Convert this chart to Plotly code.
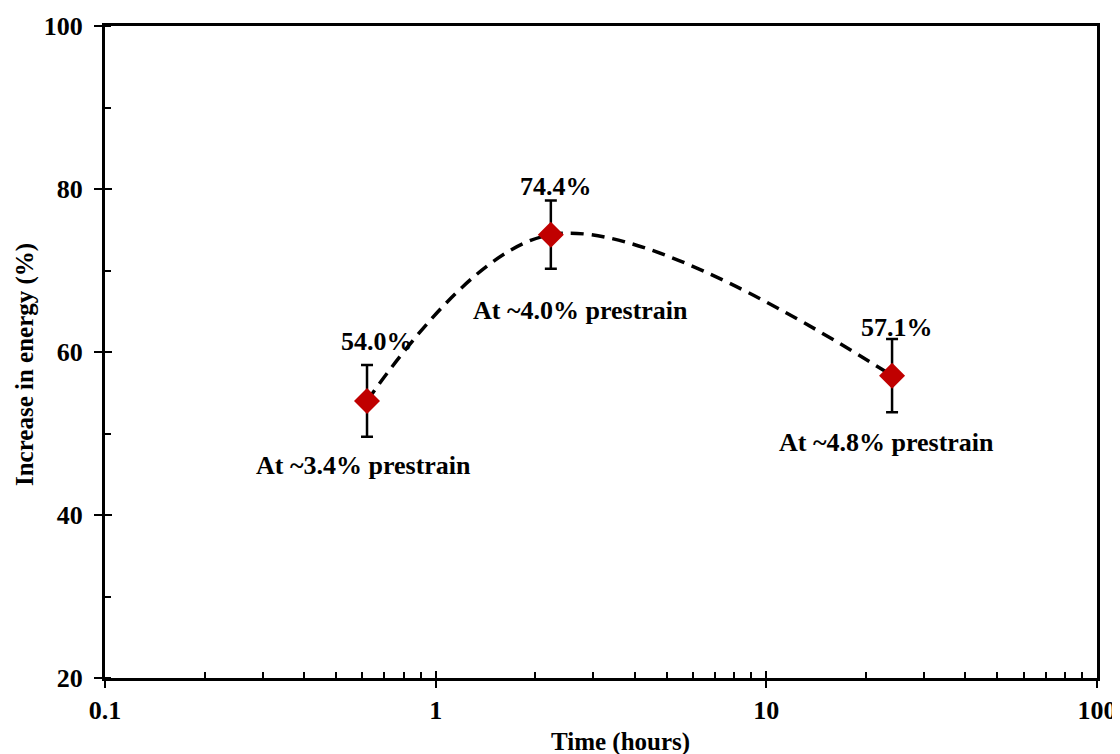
import math
import plotly.graph_objects as go

# ---- data ----
time_hours = [0.62, 2.23, 24.0]
energy_increase = [54.0, 74.4, 57.1]
error_values = [4.4, 4.2, 4.5]
value_labels = ["54.0%", "74.4%", "57.1%"]
prestrain_labels = ["At ~3.4% prestrain", "At ~4.0% prestrain", "At ~4.8% prestrain"]
x_tick_vals = [0.1, 1, 10, 100]
x_tick_text = ["0.1", "1", "10", "100"]
y_tick_vals = [20, 40, 60, 80, 100]
x_minor_vals = [m * d for d in (0.1, 1, 10) for m in range(2, 10)]

# pixel offsets of the labels from their points
value_shift = [(10, 59), (5, 48), (5, 48)]
prestrain_shift = [(-4, -65), (30, -76), (-6, -67)]

FONT = "Liberation Serif, Times New Roman, serif"
RED = "#C00000"

fig = go.Figure()

fig.add_trace(go.Scatter(
    x=time_hours, y=energy_increase, mode="lines",
    line=dict(shape="spline", smoothing=1, dash="13px,8px", color="black", width=3.5),
    hoverinfo="skip", showlegend=False))

fig.add_trace(go.Scatter(
    x=time_hours, y=energy_increase, mode="markers",
    marker=dict(symbol="diamond", size=20, color=RED, line=dict(width=0)),
    error_y=dict(type="data", array=error_values, visible=True, color="black",
                 thickness=2.5, width=6),
    showlegend=False))

# invisible trace to anchor overlay axes (for cross ticks)
fig.add_trace(go.Scatter(x=[1], y=[50], xaxis="x2", yaxis="y2", mode="markers",
                         marker=dict(opacity=0), hoverinfo="skip", showlegend=False))

tickfont = dict(family=FONT, size=26, color="black", weight="bold")

# page body has an 8px default margin, so the canvas is 8px smaller each way
fig.update_layout(
    width=1112, height=746,
    margin=dict(l=97, r=23, t=18, b=76, autoexpand=False),
    paper_bgcolor="white", plot_bgcolor="white",
    xaxis=dict(type="log", range=[-1, 2], tickvals=x_tick_vals, ticktext=x_tick_text,
               ticks="outside", ticklen=7, tickwidth=2, tickcolor="black",
               showline=True, linewidth=3, linecolor="black", mirror=True,
               showgrid=False, zeroline=False, tickfont=tickfont, automargin=False,
               minor=dict(tickvals=x_minor_vals, ticks="inside", ticklen=6,
                          tickwidth=2, tickcolor="black", showgrid=False)),
    yaxis=dict(range=[20, 100], tickvals=y_tick_vals,
               ticks="outside", ticklen=8, tickwidth=2, tickcolor="black",
               showline=True, linewidth=3, linecolor="black", mirror=True,
               showgrid=False, zeroline=False, tickfont=tickfont, automargin=False,
               ticklabelstandoff=6,
               minor=dict(dtick=10, ticks="inside", ticklen=6, tickwidth=2,
                          tickcolor="black", showgrid=False)),
    xaxis2=dict(type="log", range=[-1, 2], overlaying="x", tickvals=x_tick_vals,
                ticks="inside", ticklen=7, tickwidth=2, tickcolor="black",
                showticklabels=False, showline=False, showgrid=False, zeroline=False,
                automargin=False),
    yaxis2=dict(range=[20, 100], overlaying="y", tickvals=y_tick_vals,
                ticks="inside", ticklen=7, tickwidth=2, tickcolor="black",
                showticklabels=False, showline=False, showgrid=False, zeroline=False,
                automargin=False),
)

annfont = dict(family=FONT, size=26, color="black", weight="bold")
for x, y, v, p, vs, ps in zip(time_hours, energy_increase, value_labels,
                              prestrain_labels, value_shift, prestrain_shift):
    lx = math.log10(x)  # annotation x on a log axis is given in log10 units
    fig.add_annotation(x=lx, y=y, xref="x", yref="y", text=v, showarrow=False,
                       xshift=vs[0], yshift=vs[1], font=annfont)
    fig.add_annotation(x=lx, y=y, xref="x", yref="y", text=p, showarrow=False,
                       xshift=ps[0], yshift=ps[1], font=annfont)

titlefont = dict(family=FONT, size=25, color="black", weight="bold")
fig.add_annotation(text="Time (hours)", xref="paper", yref="paper", x=0.52, y=0,
                   yshift=-64, showarrow=False, font=titlefont, yanchor="middle")
fig.add_annotation(text="Increase in energy (%)", xref="paper", yref="paper", x=0,
                   y=0.48, xshift=-80, textangle=-90, showarrow=False,
                   font=titlefont, xanchor="center")

fig.write_html("out.html")
